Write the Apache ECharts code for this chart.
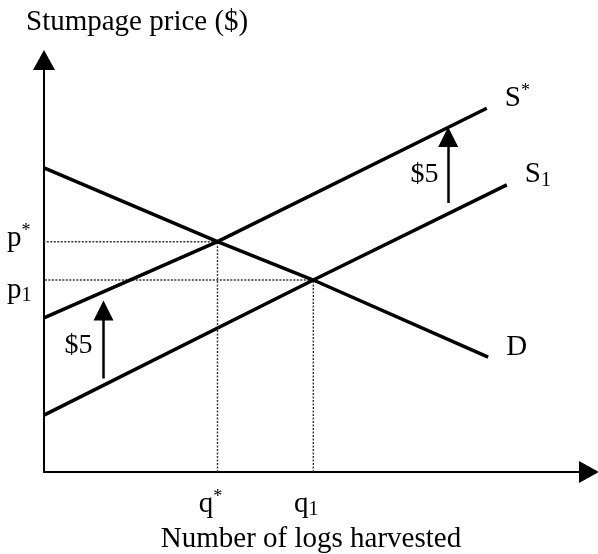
<!DOCTYPE html>
<html>
<head>
<meta charset="utf-8">
<script src="https://cdn.jsdelivr.net/npm/echarts@6/dist/echarts.min.js"></script>
<style>
  html, body { margin: 0; padding: 0; background: #fff; }
  #main { width: 598px; height: 554px; }
</style>
</head>
<body>
<div id="main"></div>
<script>
// 均衡点（抽象单位）
var qStar = 3.82, pStar = 5.59;
var q1 = 5.93, p1 = 4.66;

// 需求曲线 D
var demand = [[0, 7.38], [qStar, pStar], [q1, p1], [9.78, 2.79]];
// 征税后供给 S*
var supplyStar = [[0, 3.74], [qStar, pStar], [9.75, 8.83]];
// 原供给 S1
var supply1 = [[0, 1.38], [q1, p1], [10.19, 6.97]];
// 两个 $5 箭头（起点、箭头中心）
var taxArrows = [
  [[1.31, 2.27], [1.31, 3.92]],
  [[8.90, 6.53], [8.90, 8.13]]
];
// "$5" 文字位置
var taxLabels = [[0.77, 3.06], [8.39, 7.21]];
var taxText = '$5';

var FONT = '"Liberation Serif", "Times New Roman", serif';
var BLACK = '#000';

var chart = echarts.init(document.getElementById('main'), null, { renderer: 'canvas' });

var richText = {
  m: { fontFamily: FONT, fontSize: 29, color: BLACK, lineHeight: 32 },
  sup: { fontFamily: FONT, fontSize: 18, color: BLACK, verticalAlign: 'top', lineHeight: 32 },
  sub: { fontFamily: FONT, fontSize: 20, color: BLACK, verticalAlign: 'bottom', lineHeight: 32, padding: [8, 0, 0, 0] }
};

function curve(name, data, labelFmt) {
  return {
    name: name,
    type: 'line',
    data: data,
    symbol: 'none',
    silent: true,
    lineStyle: { color: BLACK, width: 3.5 },
    endLabel: {
      show: true,
      formatter: labelFmt,
      offset: [10, -10],
      color: BLACK,
      fontFamily: FONT,
      fontSize: 29,
      rich: richText
    }
  };
}

// 虚线：从横轴上 q 到均衡点再到纵轴 p，纵轴端标注价格
function guide(p, q, labelFmt, dy) {
  return {
    type: 'line',
    data: [[q, 0], [q, p], [0, p]],
    symbol: 'none',
    silent: true,
    z: 1,
    lineStyle: { color: '#333', width: 1.4, type: [2, 1.5] },
    endLabel: {
      show: true,
      formatter: labelFmt,
      align: 'left',
      offset: [-45, dy],
      rich: richText
    }
  };
}

var option = {
  animation: false,
  title: {
    text: 'Stumpage price ($)',
    left: 26,
    top: 8,
    padding: 0,
    textStyle: { fontFamily: FONT, fontSize: 29, fontWeight: 'normal', color: BLACK }
  },
  grid: { left: 44, right: 9, top: 60, bottom: 82, containLabel: false, outerBoundsMode: 'none' },
  xAxis: {
    type: 'value',
    min: 0,
    max: 12,
    name: 'Number of logs harvested',
    nameLocation: 'middle',
    nameGap: 42,
    nameTextStyle: { fontFamily: FONT, fontSize: 29, color: BLACK, padding: [0, 11, 0, 0] },
    axisLine: {
      show: true,
      symbol: ['none', 'triangle'],
      symbolSize: [22, 20],
      lineStyle: { color: BLACK, width: 2 }
    },
    axisTick: { show: false },
    splitLine: { show: false },
    axisLabel: {
      customValues: [qStar, q1],
      hideOverlap: false,
      showMinLabel: true,
      showMaxLabel: true,
      margin: 16,
      padding: [0, 14, 0, 0],
      formatter: function (v) {
        return Math.abs(v - qStar) < 0.01 ? '{m|q}{sup|*}' : '{m|q}{sub|1}';
      },
      rich: richText
    }
  },
  yAxis: {
    type: 'value',
    min: 0,
    max: 10,
    axisLine: {
      show: true,
      symbol: ['none', 'triangle'],
      symbolSize: [22, 20],
      lineStyle: { color: BLACK, width: 2 }
    },
    axisTick: { show: false },
    splitLine: { show: false },
    axisLabel: { show: false }
  },
  series: [
    guide(pStar, qStar, '{m|p}{sup|*}', -3),
    guide(p1, q1, '{m|p}{sub|1}', 10),
    curve('D', demand, '{m|D}'),
    curve('S*', supplyStar, '{m|S}{sup|*}'),
    curve('S1', supply1, '{m|S}{sub|1}'),
    {
      type: 'lines',
      coordinateSystem: 'cartesian2d',
      silent: true,
      symbol: ['none', 'triangle'],
      symbolSize: [15, 20],
      lineStyle: { color: BLACK, width: 2.5, opacity: 1 },
      data: taxArrows.map(function (a) { return { coords: a }; })
    },
    {
      type: 'scatter',
      symbol: 'circle',
      symbolSize: 1,
      silent: true,
      itemStyle: { color: '#fff', opacity: 1 },
      data: taxLabels,
      label: {
        show: true,
        position: [0, 0],
        align: 'center',
        verticalAlign: 'middle',
        formatter: taxText,
        color: BLACK,
        opacity: 1,
        fontFamily: FONT,
        fontSize: 28
      }
    }
  ]
};

chart.setOption(option);
</script>
</body>
</html>
